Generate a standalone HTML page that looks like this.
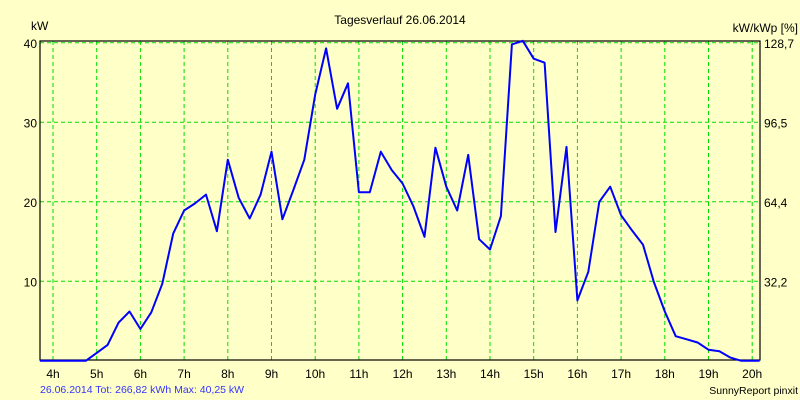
<!DOCTYPE html>
<html><head><meta charset="utf-8"><style>
html,body{margin:0;padding:0;background:#ffffc8;}
svg{display:block;font-family:"Liberation Sans",sans-serif;}
</style></head><body>
<svg id="chart" width="800" height="400" viewBox="0 0 800 400">
<rect x="0" y="0" width="800" height="400" fill="#ffffc8"/>
<text x="400" y="24" text-anchor="middle" font-size="12">Tagesverlauf 26.06.2014</text>
<text x="31" y="30" font-size="12">kW</text>
<text x="798" y="32" text-anchor="end" font-size="12">kW/kWp [%]</text>
<g id="grid"></g>
<g id="axes"></g>
<polyline id="line" fill="none" stroke="#0000ff" stroke-width="2" stroke-linejoin="round"/>
<text x="40" y="393" font-size="10.5" fill="#3333ff">26.06.2014 Tot: 266,82 kWh Max: 40,25 kW</text>
<text x="798" y="394" text-anchor="end" font-size="10.5">SunnyReport pinxit</text>
</svg>
<script>
const hourTicks = [4,5,6,7,8,9,10,11,12,13,14,15,16,17,18,19,20];
const leftTicks = [10,20,30,40];
const leftTickLabels = ["10","20","30","40"];
const rightTickLabels = ["32,2","64,4","96,5","128,7"];
const times = [3.7,4.75,5.0,5.25,5.5,5.75,6.0,6.25,6.5,6.75,7.0,7.25,7.5,7.75,8.0,8.25,8.5,8.75,9.0,9.25,9.5,9.75,10.0,10.25,10.5,10.75,11.0,11.25,11.5,11.75,12.0,12.25,12.5,12.75,13.0,13.25,13.5,13.75,14.0,14.25,14.5,14.75,15.0,15.25,15.5,15.75,16.0,16.25,16.5,16.75,17.0,17.25,17.5,17.75,18.0,18.25,18.5,18.75,19.0,19.25,19.5,19.75,20.17];
const power = [0,0,1.0,2.0,4.8,6.2,4.0,6.1,9.7,16.0,18.9,19.8,20.9,16.3,25.3,20.5,17.9,20.9,26.3,17.8,21.5,25.3,33.5,39.3,31.7,34.9,21.2,21.2,26.3,24.0,22.3,19.4,15.6,26.8,21.9,18.9,25.9,15.3,14.0,18.2,39.8,40.25,38.0,37.5,16.2,26.9,7.6,11.2,20.0,21.9,18.3,16.4,14.6,9.9,6.2,3.1,2.7,2.3,1.4,1.2,0.4,0,0];
const NS="http://www.w3.org/2000/svg";
const L=40,R=760,T=41,B=360;
function xs(h){return 53+(h-4)*43.7;}
function ys(v){return 360.8-v*7.95;}
const grid=document.getElementById('grid'), axes=document.getElementById('axes');
function mk(tag,attrs,parent){const e=document.createElementNS(NS,tag);for(const k in attrs)e.setAttribute(k,attrs[k]);parent.appendChild(e);return e;}
hourTicks.forEach(h=>{
  const g=mk('line',{x1:xs(h),x2:xs(h),y1:T,y2:B,stroke:'#00dd00','stroke-dasharray':'4,3','stroke-width':1},grid);
  
  
  const t=mk('text',{x:xs(h),y:378,'text-anchor':'middle','font-size':12},axes);
  t.textContent=h+'h';
  
  
});
leftTicks.forEach((v,i)=>{
  const y=ys(v);
  const g=mk('line',{x1:L,x2:R,y1:y,y2:y,stroke:'#00dd00','stroke-dasharray':'4,3','stroke-width':1},grid);
  
  
  const t=mk('text',{x:37,y:y+5,'text-anchor':'end','font-size':12},axes);
  t.textContent=leftTickLabels[i];
  
  
  const t2=mk('text',{x:764,y:y+5,'font-size':12},axes);
  t2.textContent=rightTickLabels[i];
  
  
});
const frame=mk('rect',{x:L,y:T,width:R-L,height:B-T,fill:'none',stroke:'#000','stroke-width':1.2},axes);


document.getElementById('line').setAttribute('points',times.map((t,i)=>xs(t).toFixed(1)+','+ys(power[i]).toFixed(1)).join(' '));
</script>
</body></html>
